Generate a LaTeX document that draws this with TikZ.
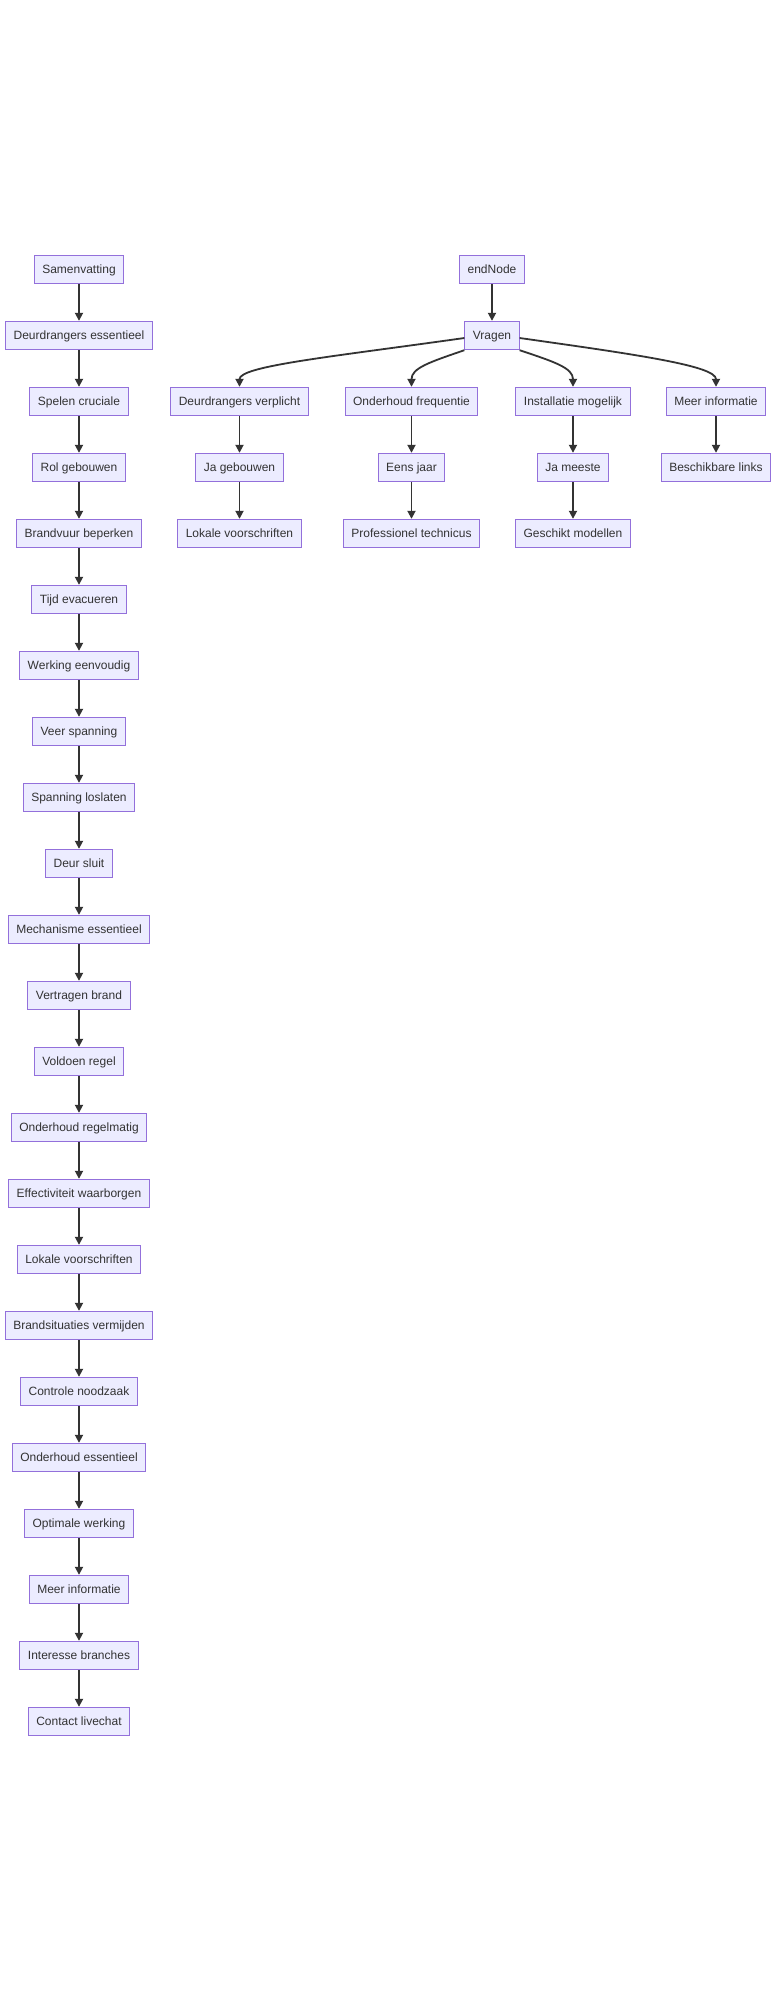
\documentclass[tikz,border=0pt]{standalone}
\usepackage{fontspec}
\setmainfont{Liberation Sans}
\usetikzlibrary{arrows.meta}
\definecolor{nodefill}{HTML}{ECECFF}
\definecolor{nodeline}{HTML}{9370DB}
\definecolor{txt}{HTML}{333333}
\tikzset{
  box/.style={draw=nodeline, fill=nodefill, line width=1pt, text=txt,
    font=\fontsize{12}{14}\selectfont, inner xsep=8pt, inner ysep=0pt,
    text height=10.86pt, text depth=2.54pt, minimum height=28.4pt},
  conn/.style={draw=txt, line width=1.8pt, -{Triangle[length=8pt,width=8pt]}}
}
\begin{document}
\begin{tikzpicture}[x=1pt,y=-1pt]
\useasboundingbox (0,0) rectangle (784,1990);
\fill[white] (0,0) rectangle (784,1990);
% left column
\foreach \t [count=\i from 0] in {Samenvatting,Deurdrangers essentieel,Spelen cruciale,Rol gebouwen,Brandvuur beperken,Tijd evacueren,Werking eenvoudig,Veer spanning,Spanning loslaten,Deur sluit,Mechanisme essentieel,Vertragen brand,Voldoen regel,Onderhoud regelmatig,Effectiviteit waarborgen,Lokale voorschriften,Brandsituaties vermijden,Controle noodzaak,Onderhoud essentieel,Optimale werking,Meer informatie,Interesse branches,Contact livechat}{
  \node[box] (L\i) at (79,{269.5+66*\i}) {\t};
}
\foreach \i [evaluate=\i as \j using int(\i+1)] in {0,...,21}{
  \draw[conn] (L\i.south) -- (L\j.north);
}
% right part
\node[box] (endn) at (492,269.5) {endNode};
\node[box] (vr) at (492,335.5) {Vragen};
\node[box] (dv) at (239.5,401.5) {Deurdrangers verplicht};
\node[box] (of) at (411.5,401.5) {Onderhoud frequentie};
\node[box] (im) at (573,401.5) {Installatie mogelijk};
\node[box] (mi) at (716,401.5) {Meer informatie};
\node[box] (jg) at (239.5,467.5) {Ja gebouwen};
\node[box] (ej) at (411.5,467.5) {Eens jaar};
\node[box] (jm) at (573,467.5) {Ja meeste};
\node[box] (bl) at (716,467.5) {Beschikbare links};
\node[box] (lv) at (239.5,533.5) {Lokale voorschriften};
\node[box] (pt) at (411.5,533.5) {Professionel technicus};
\node[box] (gm) at (573,533.5) {Geschikt modellen};
\draw[conn] (endn.south) -- (vr.north);
\draw[conn] (vr.west |- 0,338) .. controls (330,357) and (239.5,366) .. (dv.north);
\draw[conn] (vr.south west) .. controls (430,362) and (411.5,368) .. (of.north);
\draw[conn] (vr.south east) .. controls (555,362) and (573,368) .. (im.north);
\draw[conn] (vr.east |- 0,338) .. controls (640,355) and (716,366) .. (mi.north);
\draw[conn] (dv.south) -- (jg.north);
\draw[conn] (of.south) -- (ej.north);
\draw[conn] (im.south) -- (jm.north);
\draw[conn] (mi.south) -- (bl.north);
\draw[conn] (jg.south) -- (lv.north);
\draw[conn] (ej.south) -- (pt.north);
\draw[conn] (jm.south) -- (gm.north);
\end{tikzpicture}
\end{document}
